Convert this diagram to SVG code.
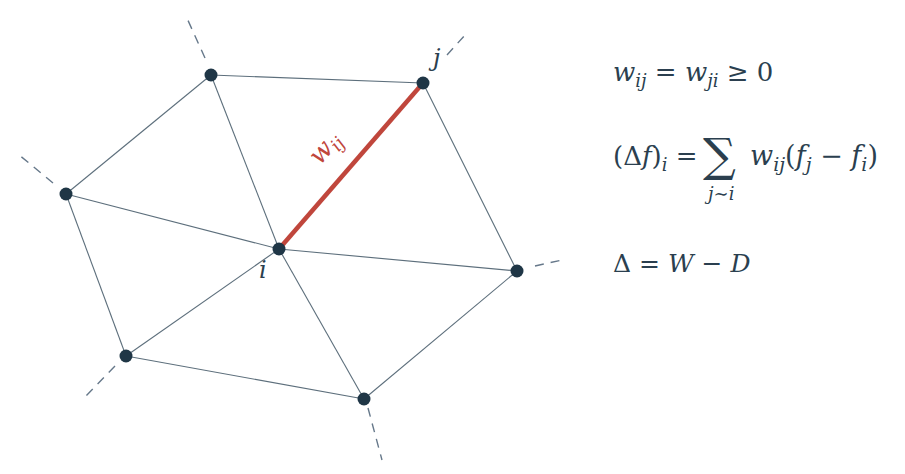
<svg xmlns="http://www.w3.org/2000/svg" width="905" height="474" viewBox="0 0 905 474">
<style>
.e{stroke:#5d6f7c;stroke-width:1.1;fill:none}
.d{stroke:#66788a;stroke-width:1.4;stroke-dasharray:9,7;fill:none}
.n{fill:#1f3646}
.m{font-family:'DejaVu Serif','Liberation Serif',serif;fill:#2b3f4f}
.it{font-style:italic}
</style>
<rect width="905" height="474" fill="#fff"/>
<g id="connectors">
<line class="e" x1="211" y1="75" x2="423" y2="83"/>
<line class="e" x1="211" y1="75" x2="66" y2="194"/>
<line class="e" x1="211" y1="75" x2="279" y2="249"/>
<line class="e" x1="423" y1="83" x2="517" y2="271"/>
<line class="e" x1="66" y1="194" x2="279" y2="249"/>
<line class="e" x1="66" y1="194" x2="126" y2="356"/>
<line class="e" x1="279" y1="249" x2="517" y2="271"/>
<line class="e" x1="279" y1="249" x2="126" y2="356"/>
<line class="e" x1="279" y1="249" x2="364" y2="399"/>
<line class="e" x1="126" y1="356" x2="364" y2="399"/>
<line class="e" x1="517" y1="271" x2="364" y2="399"/>
<line class="d" x1="205" y1="58" x2="186" y2="16"/>
<line class="d" x1="447" y1="55" x2="465" y2="35"/>
<line class="d" x1="53" y1="183" x2="18" y2="154"/>
<line class="d" x1="535" y1="266" x2="562" y2="260"/>
<line class="d" x1="115" y1="366" x2="83" y2="399"/>
<line class="d" x1="368" y1="408" x2="382" y2="460"/>
<line x1="279" y1="249" x2="423" y2="83" stroke="#c0463c" stroke-width="4.5"/>
<text class="m it" x="0" y="0" transform="translate(320,166) rotate(-49)" font-size="26" style="fill:#c0463c">w<tspan font-size="18" dy="5">ij</tspan></text>
</g>
<g id="node-a"><circle class="n" cx="211" cy="75" r="6.5"/></g>
<g id="node-j"><circle class="n" cx="423" cy="83" r="6.5"/><text class="m it" x="433" y="66" font-size="24">j</text></g>
<g id="node-l"><circle class="n" cx="66" cy="194" r="6.5"/></g>
<g id="node-i"><circle class="n" cx="279" cy="249" r="6.5"/><text class="m it" x="259" y="278" font-size="24">i</text></g>
<g id="node-r"><circle class="n" cx="517" cy="271" r="6.5"/></g>
<g id="node-bl"><circle class="n" cx="126" cy="356" r="6.5"/></g>
<g id="node-b"><circle class="n" cx="364" cy="399" r="6.5"/></g>
<g id="formulas">
<text class="m" x="613" y="81" font-size="26"><tspan class="it">w</tspan><tspan class="it" font-size="18" dy="6">ij</tspan><tspan dy="-6"> = </tspan><tspan class="it">w</tspan><tspan class="it" font-size="18" dy="6">ji</tspan><tspan dy="-6"> ≥ 0</tspan></text>
<text class="m" x="613" y="165" font-size="26">(Δ<tspan class="it">f</tspan>)<tspan class="it" font-size="18" dy="6">i</tspan><tspan dy="-6"> = </tspan></text>
<text class="m" x="703" y="171" font-size="46">∑</text>
<text class="m it" x="708" y="200" font-size="18">j∼i</text>
<text class="m" x="750" y="165" font-size="27"><tspan class="it">w</tspan><tspan class="it" font-size="19" dy="6">ij</tspan><tspan dy="-6">(</tspan><tspan class="it">f</tspan><tspan class="it" font-size="19" dy="6">j</tspan><tspan dy="-6"> − </tspan><tspan class="it">f</tspan><tspan class="it" font-size="19" dy="6">i</tspan><tspan dy="-6">)</tspan></text>
<text class="m" x="613" y="272" font-size="25">Δ = <tspan class="it">W</tspan> − <tspan class="it">D</tspan></text>
</g>
</svg>
